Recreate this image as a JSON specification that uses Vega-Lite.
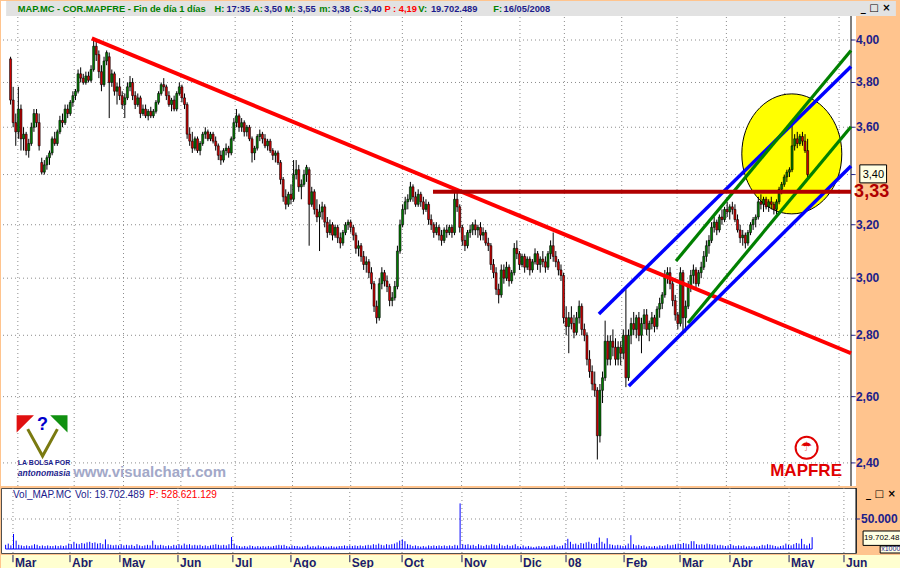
{
"$schema": "https://vega.github.io/schema/vega-lite/v6.json",
"background": "#FFC48E",
"padding": 0,
"spacing": 0,
"config": {"view": {"stroke": null}, "font": "Liberation Sans"},
"resolve": {"scale": {"x": "independent", "y": "independent"}},
"datasets": {
"ohlc": [
{"i":1,"o":3.91,"h":3.92,"l":3.70,"c":3.72,"v":7000},
{"i":2,"o":3.72,"h":3.78,"l":3.60,"c":3.62,"v":9000},
{"i":3,"o":3.62,"h":3.66,"l":3.52,"c":3.58,"v":6000},
{"i":4,"o":3.58,"h":3.78,"l":3.55,"c":3.68,"v":25000},
{"i":5,"o":3.68,"h":3.70,"l":3.50,"c":3.55,"v":14000},
{"i":6,"o":3.55,"h":3.60,"l":3.50,"c":3.57,"v":7000},
{"i":7,"o":3.57,"h":3.58,"l":3.48,"c":3.50,"v":6000},
{"i":8,"o":3.50,"h":3.55,"l":3.47,"c":3.53,"v":5000},
{"i":9,"o":3.53,"h":3.62,"l":3.52,"c":3.60,"v":6000},
{"i":10,"o":3.60,"h":3.68,"l":3.58,"c":3.66,"v":5000},
{"i":11,"o":3.66,"h":3.68,"l":3.60,"c":3.62,"v":6000},
{"i":12,"o":3.62,"h":3.66,"l":3.50,"c":3.52,"v":8000},
{"i":13,"o":3.45,"h":3.47,"l":3.40,"c":3.41,"v":7000},
{"i":14,"o":3.41,"h":3.46,"l":3.40,"c":3.44,"v":5000},
{"i":15,"o":3.44,"h":3.48,"l":3.42,"c":3.47,"v":6000},
{"i":16,"o":3.47,"h":3.50,"l":3.44,"c":3.49,"v":5000},
{"i":17,"o":3.49,"h":3.56,"l":3.48,"c":3.55,"v":6000},
{"i":18,"o":3.55,"h":3.58,"l":3.52,"c":3.53,"v":5000},
{"i":19,"o":3.53,"h":3.59,"l":3.52,"c":3.58,"v":5000},
{"i":20,"o":3.58,"h":3.65,"l":3.57,"c":3.63,"v":6000},
{"i":21,"o":3.63,"h":3.66,"l":3.60,"c":3.62,"v":5000},
{"i":22,"o":3.62,"h":3.70,"l":3.61,"c":3.68,"v":6000},
{"i":23,"o":3.68,"h":3.70,"l":3.64,"c":3.66,"v":5000},
{"i":24,"o":3.66,"h":3.72,"l":3.65,"c":3.71,"v":6000},
{"i":25,"o":3.71,"h":3.76,"l":3.69,"c":3.74,"v":9000},
{"i":26,"o":3.74,"h":3.77,"l":3.72,"c":3.76,"v":8000},
{"i":27,"o":3.76,"h":3.86,"l":3.75,"c":3.84,"v":12000},
{"i":28,"o":3.84,"h":3.87,"l":3.80,"c":3.82,"v":9000},
{"i":29,"o":3.82,"h":3.84,"l":3.79,"c":3.80,"v":8000},
{"i":30,"o":3.80,"h":3.85,"l":3.79,"c":3.83,"v":10000},
{"i":31,"o":3.83,"h":3.85,"l":3.80,"c":3.81,"v":9000},
{"i":32,"o":3.81,"h":3.88,"l":3.80,"c":3.86,"v":11000},
{"i":33,"o":3.86,"h":4.01,"l":3.85,"c":3.97,"v":12000},
{"i":34,"o":3.97,"h":4.00,"l":3.90,"c":3.93,"v":10000},
{"i":35,"o":3.93,"h":3.95,"l":3.82,"c":3.85,"v":11000},
{"i":36,"o":3.85,"h":3.88,"l":3.76,"c":3.79,"v":9000},
{"i":37,"o":3.79,"h":3.92,"l":3.78,"c":3.90,"v":10000},
{"i":38,"o":3.90,"h":3.95,"l":3.88,"c":3.94,"v":8000},
{"i":39,"o":3.92,"h":3.94,"l":3.64,"c":3.80,"v":16000},
{"i":40,"o":3.80,"h":3.86,"l":3.78,"c":3.84,"v":8000},
{"i":41,"o":3.84,"h":3.85,"l":3.74,"c":3.76,"v":7000},
{"i":42,"o":3.76,"h":3.80,"l":3.70,"c":3.78,"v":6000},
{"i":43,"o":3.78,"h":3.82,"l":3.72,"c":3.74,"v":7000},
{"i":44,"o":3.74,"h":3.76,"l":3.68,"c":3.70,"v":6000},
{"i":45,"o":3.70,"h":3.75,"l":3.64,"c":3.73,"v":8000},
{"i":46,"o":3.73,"h":3.80,"l":3.72,"c":3.78,"v":6000},
{"i":47,"o":3.78,"h":3.83,"l":3.76,"c":3.80,"v":7000},
{"i":48,"o":3.80,"h":3.82,"l":3.72,"c":3.74,"v":6000},
{"i":49,"o":3.74,"h":3.76,"l":3.68,"c":3.70,"v":7000},
{"i":50,"o":3.70,"h":3.75,"l":3.69,"c":3.73,"v":5000},
{"i":51,"o":3.73,"h":3.74,"l":3.64,"c":3.66,"v":8000},
{"i":52,"o":3.66,"h":3.70,"l":3.65,"c":3.68,"v":6000},
{"i":53,"o":3.68,"h":3.70,"l":3.64,"c":3.65,"v":5000},
{"i":54,"o":3.65,"h":3.68,"l":3.63,"c":3.67,"v":6000},
{"i":55,"o":3.67,"h":3.69,"l":3.64,"c":3.65,"v":7000},
{"i":56,"o":3.65,"h":3.68,"l":3.64,"c":3.67,"v":6000},
{"i":57,"o":3.67,"h":3.72,"l":3.66,"c":3.71,"v":14000},
{"i":58,"o":3.71,"h":3.76,"l":3.70,"c":3.75,"v":7000},
{"i":59,"o":3.75,"h":3.80,"l":3.74,"c":3.79,"v":6000},
{"i":60,"o":3.79,"h":3.82,"l":3.76,"c":3.78,"v":7000},
{"i":61,"o":3.78,"h":3.79,"l":3.72,"c":3.74,"v":6000},
{"i":62,"o":3.74,"h":3.76,"l":3.69,"c":3.70,"v":5000},
{"i":63,"o":3.70,"h":3.73,"l":3.67,"c":3.72,"v":6000},
{"i":64,"o":3.72,"h":3.74,"l":3.67,"c":3.68,"v":5000},
{"i":65,"o":3.68,"h":3.76,"l":3.67,"c":3.75,"v":7000},
{"i":66,"o":3.75,"h":3.80,"l":3.74,"c":3.78,"v":6000},
{"i":67,"o":3.78,"h":3.79,"l":3.71,"c":3.73,"v":8000},
{"i":68,"o":3.73,"h":3.75,"l":3.68,"c":3.70,"v":6000},
{"i":69,"o":3.70,"h":3.71,"l":3.55,"c":3.57,"v":9000},
{"i":70,"o":3.57,"h":3.60,"l":3.52,"c":3.54,"v":7000},
{"i":71,"o":3.54,"h":3.58,"l":3.49,"c":3.51,"v":8000},
{"i":72,"o":3.51,"h":3.56,"l":3.50,"c":3.55,"v":6000},
{"i":73,"o":3.55,"h":3.56,"l":3.49,"c":3.50,"v":7000},
{"i":74,"o":3.50,"h":3.54,"l":3.48,"c":3.53,"v":6000},
{"i":75,"o":3.53,"h":3.58,"l":3.52,"c":3.57,"v":7000},
{"i":76,"o":3.57,"h":3.60,"l":3.55,"c":3.58,"v":5000},
{"i":77,"o":3.58,"h":3.59,"l":3.54,"c":3.55,"v":6000},
{"i":78,"o":3.55,"h":3.58,"l":3.54,"c":3.57,"v":5000},
{"i":79,"o":3.57,"h":3.58,"l":3.53,"c":3.54,"v":6000},
{"i":80,"o":3.54,"h":3.56,"l":3.50,"c":3.52,"v":7000},
{"i":81,"o":3.52,"h":3.53,"l":3.46,"c":3.48,"v":8000},
{"i":82,"o":3.48,"h":3.50,"l":3.44,"c":3.46,"v":7000},
{"i":83,"o":3.46,"h":3.51,"l":3.45,"c":3.50,"v":6000},
{"i":84,"o":3.50,"h":3.53,"l":3.48,"c":3.51,"v":7000},
{"i":85,"o":3.51,"h":3.52,"l":3.47,"c":3.49,"v":6000},
{"i":86,"o":3.49,"h":3.56,"l":3.48,"c":3.55,"v":8000},
{"i":87,"o":3.55,"h":3.64,"l":3.54,"c":3.62,"v":20000},
{"i":88,"o":3.62,"h":3.68,"l":3.60,"c":3.65,"v":9000},
{"i":89,"o":3.65,"h":3.66,"l":3.58,"c":3.60,"v":6000},
{"i":90,"o":3.60,"h":3.64,"l":3.58,"c":3.62,"v":5000},
{"i":91,"o":3.62,"h":3.63,"l":3.56,"c":3.58,"v":4000},
{"i":92,"o":3.58,"h":3.61,"l":3.56,"c":3.60,"v":5000},
{"i":93,"o":3.60,"h":3.61,"l":3.54,"c":3.55,"v":4000},
{"i":94,"o":3.55,"h":3.56,"l":3.45,"c":3.49,"v":6000},
{"i":95,"o":3.49,"h":3.52,"l":3.46,"c":3.51,"v":5000},
{"i":96,"o":3.51,"h":3.57,"l":3.50,"c":3.56,"v":4000},
{"i":97,"o":3.56,"h":3.59,"l":3.54,"c":3.57,"v":5000},
{"i":98,"o":3.57,"h":3.58,"l":3.53,"c":3.55,"v":4000},
{"i":99,"o":3.55,"h":3.57,"l":3.51,"c":3.52,"v":5000},
{"i":100,"o":3.52,"h":3.55,"l":3.50,"c":3.54,"v":4000},
{"i":101,"o":3.54,"h":3.55,"l":3.49,"c":3.50,"v":5000},
{"i":102,"o":3.50,"h":3.51,"l":3.46,"c":3.48,"v":4000},
{"i":103,"o":3.48,"h":3.50,"l":3.45,"c":3.49,"v":5000},
{"i":104,"o":3.49,"h":3.50,"l":3.44,"c":3.45,"v":6000},
{"i":105,"o":3.45,"h":3.46,"l":3.36,"c":3.38,"v":7000},
{"i":106,"o":3.38,"h":3.39,"l":3.29,"c":3.31,"v":6000},
{"i":107,"o":3.31,"h":3.34,"l":3.26,"c":3.28,"v":7000},
{"i":108,"o":3.28,"h":3.33,"l":3.27,"c":3.32,"v":5000},
{"i":109,"o":3.32,"h":3.36,"l":3.28,"c":3.30,"v":4000},
{"i":110,"o":3.30,"h":3.46,"l":3.29,"c":3.40,"v":6000},
{"i":111,"o":3.40,"h":3.46,"l":3.38,"c":3.42,"v":5000},
{"i":112,"o":3.42,"h":3.44,"l":3.33,"c":3.35,"v":5000},
{"i":113,"o":3.35,"h":3.38,"l":3.30,"c":3.36,"v":4000},
{"i":114,"o":3.36,"h":3.42,"l":3.35,"c":3.40,"v":4000},
{"i":115,"o":3.40,"h":3.44,"l":3.37,"c":3.43,"v":5000},
{"i":116,"o":3.42,"h":3.43,"l":3.12,"c":3.28,"v":7000},
{"i":117,"o":3.28,"h":3.35,"l":3.27,"c":3.33,"v":4000},
{"i":118,"o":3.33,"h":3.34,"l":3.24,"c":3.26,"v":5000},
{"i":119,"o":3.26,"h":3.30,"l":3.21,"c":3.23,"v":4000},
{"i":120,"o":3.23,"h":3.28,"l":3.10,"c":3.25,"v":6000},
{"i":121,"o":3.25,"h":3.29,"l":3.22,"c":3.27,"v":4000},
{"i":122,"o":3.27,"h":3.28,"l":3.19,"c":3.21,"v":5000},
{"i":123,"o":3.21,"h":3.23,"l":3.15,"c":3.17,"v":4000},
{"i":124,"o":3.17,"h":3.22,"l":3.16,"c":3.20,"v":4000},
{"i":125,"o":3.20,"h":3.21,"l":3.14,"c":3.16,"v":5000},
{"i":126,"o":3.16,"h":3.20,"l":3.15,"c":3.19,"v":4000},
{"i":127,"o":3.19,"h":3.20,"l":3.13,"c":3.15,"v":4000},
{"i":128,"o":3.15,"h":3.17,"l":3.11,"c":3.13,"v":5000},
{"i":129,"o":3.13,"h":3.18,"l":3.12,"c":3.17,"v":5000},
{"i":130,"o":3.17,"h":3.21,"l":3.16,"c":3.20,"v":6000},
{"i":131,"o":3.20,"h":3.22,"l":3.18,"c":3.21,"v":5000},
{"i":132,"o":3.21,"h":3.22,"l":3.17,"c":3.19,"v":6000},
{"i":133,"o":3.19,"h":3.20,"l":3.14,"c":3.16,"v":5000},
{"i":134,"o":3.16,"h":3.17,"l":3.09,"c":3.11,"v":6000},
{"i":135,"o":3.11,"h":3.14,"l":3.08,"c":3.12,"v":5000},
{"i":136,"o":3.12,"h":3.13,"l":3.06,"c":3.08,"v":6000},
{"i":137,"o":3.08,"h":3.10,"l":3.03,"c":3.05,"v":5000},
{"i":138,"o":3.05,"h":3.08,"l":3.02,"c":3.06,"v":6000},
{"i":139,"o":3.06,"h":3.07,"l":3.00,"c":3.02,"v":7000},
{"i":140,"o":3.02,"h":3.04,"l":2.96,"c":2.98,"v":6000},
{"i":141,"o":2.98,"h":2.99,"l":2.88,"c":2.90,"v":8000},
{"i":142,"o":2.90,"h":2.92,"l":2.84,"c":2.86,"v":7000},
{"i":143,"o":2.86,"h":3.00,"l":2.85,"c":2.98,"v":9000},
{"i":144,"o":2.98,"h":3.04,"l":2.96,"c":3.02,"v":7000},
{"i":145,"o":3.02,"h":3.03,"l":2.97,"c":2.99,"v":6000},
{"i":146,"o":2.99,"h":3.01,"l":2.95,"c":2.97,"v":8000},
{"i":147,"o":2.97,"h":2.98,"l":2.90,"c":2.92,"v":7000},
{"i":148,"o":2.92,"h":2.95,"l":2.90,"c":2.93,"v":8000},
{"i":149,"o":2.93,"h":2.99,"l":2.92,"c":2.97,"v":9000},
{"i":150,"o":2.97,"h":3.12,"l":2.96,"c":3.10,"v":11000},
{"i":151,"o":3.10,"h":3.22,"l":3.09,"c":3.20,"v":14000},
{"i":152,"o":3.20,"h":3.28,"l":3.19,"c":3.26,"v":16000},
{"i":153,"o":3.26,"h":3.31,"l":3.24,"c":3.29,"v":13000},
{"i":154,"o":3.29,"h":3.32,"l":3.26,"c":3.30,"v":8000},
{"i":155,"o":3.30,"h":3.37,"l":3.29,"c":3.35,"v":7000},
{"i":156,"o":3.35,"h":3.36,"l":3.29,"c":3.31,"v":5000},
{"i":157,"o":3.31,"h":3.33,"l":3.27,"c":3.28,"v":6000},
{"i":158,"o":3.28,"h":3.34,"l":3.27,"c":3.32,"v":5000},
{"i":159,"o":3.32,"h":3.33,"l":3.27,"c":3.29,"v":4000},
{"i":160,"o":3.29,"h":3.31,"l":3.24,"c":3.26,"v":5000},
{"i":161,"o":3.26,"h":3.30,"l":3.25,"c":3.28,"v":4000},
{"i":162,"o":3.28,"h":3.29,"l":3.20,"c":3.22,"v":6000},
{"i":163,"o":3.22,"h":3.24,"l":3.18,"c":3.20,"v":5000},
{"i":164,"o":3.20,"h":3.21,"l":3.15,"c":3.17,"v":6000},
{"i":165,"o":3.17,"h":3.21,"l":3.16,"c":3.19,"v":5000},
{"i":166,"o":3.19,"h":3.20,"l":3.14,"c":3.16,"v":6000},
{"i":167,"o":3.16,"h":3.18,"l":3.12,"c":3.14,"v":5000},
{"i":168,"o":3.14,"h":3.19,"l":3.13,"c":3.18,"v":6000},
{"i":169,"o":3.18,"h":3.20,"l":3.15,"c":3.17,"v":5000},
{"i":170,"o":3.17,"h":3.20,"l":3.16,"c":3.19,"v":6000},
{"i":171,"o":3.19,"h":3.20,"l":3.15,"c":3.17,"v":5000},
{"i":172,"o":3.17,"h":3.33,"l":3.16,"c":3.30,"v":7000},
{"i":173,"o":3.30,"h":3.34,"l":3.25,"c":3.27,"v":6000},
{"i":174,"o":3.27,"h":3.28,"l":3.17,"c":3.19,"v":76000},
{"i":175,"o":3.19,"h":3.20,"l":3.12,"c":3.14,"v":8000},
{"i":176,"o":3.14,"h":3.16,"l":3.10,"c":3.12,"v":7000},
{"i":177,"o":3.12,"h":3.18,"l":3.11,"c":3.17,"v":8000},
{"i":178,"o":3.17,"h":3.20,"l":3.15,"c":3.18,"v":6000},
{"i":179,"o":3.18,"h":3.21,"l":3.16,"c":3.20,"v":7000},
{"i":180,"o":3.20,"h":3.22,"l":3.16,"c":3.18,"v":5000},
{"i":181,"o":3.18,"h":3.20,"l":3.15,"c":3.19,"v":8000},
{"i":182,"o":3.19,"h":3.21,"l":3.14,"c":3.16,"v":6000},
{"i":183,"o":3.16,"h":3.19,"l":3.14,"c":3.17,"v":5000},
{"i":184,"o":3.17,"h":3.18,"l":3.12,"c":3.13,"v":7000},
{"i":185,"o":3.13,"h":3.15,"l":3.10,"c":3.12,"v":6000},
{"i":186,"o":3.12,"h":3.13,"l":3.03,"c":3.05,"v":8000},
{"i":187,"o":3.05,"h":3.07,"l":3.00,"c":3.02,"v":7000},
{"i":188,"o":3.02,"h":3.04,"l":2.94,"c":2.96,"v":6000},
{"i":189,"o":2.96,"h":2.98,"l":2.91,"c":2.94,"v":9000},
{"i":190,"o":2.94,"h":3.05,"l":2.93,"c":3.03,"v":6000},
{"i":191,"o":3.03,"h":3.05,"l":2.98,"c":3.00,"v":5000},
{"i":192,"o":3.00,"h":3.06,"l":2.99,"c":3.04,"v":7000},
{"i":193,"o":3.04,"h":3.05,"l":2.97,"c":2.99,"v":5000},
{"i":194,"o":2.99,"h":3.03,"l":2.98,"c":3.02,"v":6000},
{"i":195,"o":3.02,"h":3.13,"l":3.01,"c":3.11,"v":8000},
{"i":196,"o":3.11,"h":3.14,"l":3.07,"c":3.09,"v":5000},
{"i":197,"o":3.09,"h":3.10,"l":3.03,"c":3.05,"v":4000},
{"i":198,"o":3.05,"h":3.09,"l":3.04,"c":3.08,"v":6000},
{"i":199,"o":3.08,"h":3.09,"l":3.02,"c":3.04,"v":4000},
{"i":200,"o":3.04,"h":3.08,"l":3.03,"c":3.07,"v":5000},
{"i":201,"o":3.07,"h":3.08,"l":3.01,"c":3.03,"v":4000},
{"i":202,"o":3.03,"h":3.07,"l":3.02,"c":3.06,"v":3000},
{"i":203,"o":3.06,"h":3.11,"l":3.05,"c":3.09,"v":4000},
{"i":204,"o":3.09,"h":3.10,"l":3.03,"c":3.05,"v":5000},
{"i":205,"o":3.05,"h":3.08,"l":3.02,"c":3.07,"v":4000},
{"i":206,"o":3.07,"h":3.10,"l":3.04,"c":3.06,"v":5000},
{"i":207,"o":3.06,"h":3.08,"l":3.02,"c":3.04,"v":4000},
{"i":208,"o":3.04,"h":3.10,"l":3.03,"c":3.09,"v":5000},
{"i":209,"o":3.09,"h":3.14,"l":3.07,"c":3.12,"v":6000},
{"i":210,"o":3.12,"h":3.17,"l":3.06,"c":3.08,"v":7000},
{"i":211,"o":3.08,"h":3.10,"l":3.04,"c":3.06,"v":4000},
{"i":212,"o":3.06,"h":3.07,"l":3.01,"c":3.03,"v":5000},
{"i":213,"o":3.03,"h":3.05,"l":2.99,"c":3.01,"v":6000},
{"i":214,"o":3.01,"h":3.02,"l":2.84,"c":2.86,"v":10000},
{"i":215,"o":2.86,"h":2.90,"l":2.80,"c":2.83,"v":17000},
{"i":216,"o":2.83,"h":2.88,"l":2.74,"c":2.86,"v":12000},
{"i":217,"o":2.86,"h":2.90,"l":2.82,"c":2.84,"v":8000},
{"i":218,"o":2.84,"h":2.87,"l":2.79,"c":2.81,"v":9000},
{"i":219,"o":2.81,"h":2.88,"l":2.80,"c":2.86,"v":7000},
{"i":220,"o":2.86,"h":2.92,"l":2.84,"c":2.90,"v":10000},
{"i":221,"o":2.90,"h":2.91,"l":2.80,"c":2.82,"v":9000},
{"i":222,"o":2.82,"h":2.84,"l":2.78,"c":2.80,"v":11000},
{"i":223,"o":2.80,"h":2.81,"l":2.70,"c":2.72,"v":12000},
{"i":224,"o":2.72,"h":2.75,"l":2.66,"c":2.68,"v":9000},
{"i":225,"o":2.68,"h":2.70,"l":2.62,"c":2.64,"v":8000},
{"i":226,"o":2.64,"h":2.68,"l":2.60,"c":2.62,"v":10000},
{"i":227,"o":2.62,"h":2.63,"l":2.41,"c":2.48,"v":19000},
{"i":228,"o":2.48,"h":2.64,"l":2.46,"c":2.62,"v":12000},
{"i":229,"o":2.62,"h":2.68,"l":2.58,"c":2.66,"v":9000},
{"i":230,"o":2.66,"h":2.85,"l":2.65,"c":2.78,"v":18000},
{"i":231,"o":2.78,"h":2.80,"l":2.70,"c":2.72,"v":8000},
{"i":232,"o":2.72,"h":2.80,"l":2.70,"c":2.78,"v":7000},
{"i":233,"o":2.78,"h":2.82,"l":2.73,"c":2.76,"v":6000},
{"i":234,"o":2.76,"h":2.79,"l":2.70,"c":2.72,"v":7000},
{"i":235,"o":2.72,"h":2.78,"l":2.70,"c":2.76,"v":6000},
{"i":236,"o":2.76,"h":2.78,"l":2.70,"c":2.74,"v":5000},
{"i":237,"o":2.74,"h":2.82,"l":2.72,"c":2.80,"v":6000},
{"i":238,"o":2.80,"h":2.96,"l":2.63,"c":2.66,"v":9000},
{"i":239,"o":2.66,"h":2.82,"l":2.65,"c":2.80,"v":23000},
{"i":240,"o":2.80,"h":2.86,"l":2.77,"c":2.84,"v":8000},
{"i":241,"o":2.84,"h":2.88,"l":2.80,"c":2.82,"v":6000},
{"i":242,"o":2.82,"h":2.87,"l":2.79,"c":2.86,"v":7000},
{"i":243,"o":2.86,"h":2.88,"l":2.78,"c":2.80,"v":5000},
{"i":244,"o":2.80,"h":2.86,"l":2.74,"c":2.84,"v":6000},
{"i":245,"o":2.84,"h":2.89,"l":2.82,"c":2.87,"v":4000},
{"i":246,"o":2.87,"h":2.89,"l":2.80,"c":2.82,"v":5000},
{"i":247,"o":2.82,"h":2.85,"l":2.78,"c":2.84,"v":4000},
{"i":248,"o":2.84,"h":2.88,"l":2.82,"c":2.86,"v":5000},
{"i":249,"o":2.86,"h":2.87,"l":2.81,"c":2.83,"v":4000},
{"i":250,"o":2.83,"h":2.90,"l":2.82,"c":2.89,"v":6000},
{"i":251,"o":2.89,"h":2.93,"l":2.86,"c":2.91,"v":5000},
{"i":252,"o":2.91,"h":2.95,"l":2.89,"c":2.94,"v":6000},
{"i":253,"o":2.94,"h":3.03,"l":2.93,"c":3.01,"v":8000},
{"i":254,"o":3.01,"h":3.04,"l":2.98,"c":3.02,"v":6000},
{"i":255,"o":3.02,"h":3.04,"l":2.96,"c":2.98,"v":7000},
{"i":256,"o":2.98,"h":3.00,"l":2.90,"c":2.92,"v":8000},
{"i":257,"o":2.92,"h":2.94,"l":2.85,"c":2.87,"v":9000},
{"i":258,"o":2.87,"h":2.88,"l":2.82,"c":2.84,"v":8000},
{"i":259,"o":2.84,"h":3.04,"l":2.83,"c":3.02,"v":10000},
{"i":260,"o":3.02,"h":3.03,"l":2.81,"c":2.86,"v":9000},
{"i":261,"o":2.86,"h":2.92,"l":2.81,"c":2.90,"v":8000},
{"i":262,"o":2.90,"h":2.99,"l":2.89,"c":2.97,"v":13000},
{"i":263,"o":2.97,"h":3.03,"l":2.95,"c":3.01,"v":13000},
{"i":264,"o":3.01,"h":3.05,"l":2.98,"c":3.03,"v":8000},
{"i":265,"o":3.03,"h":3.04,"l":2.96,"c":2.98,"v":7000},
{"i":266,"o":2.98,"h":3.03,"l":2.97,"c":3.02,"v":8000},
{"i":267,"o":3.02,"h":3.06,"l":3.00,"c":3.04,"v":7000},
{"i":268,"o":3.04,"h":3.10,"l":3.03,"c":3.08,"v":9000},
{"i":269,"o":3.08,"h":3.14,"l":3.06,"c":3.12,"v":8000},
{"i":270,"o":3.12,"h":3.16,"l":3.09,"c":3.14,"v":7000},
{"i":271,"o":3.14,"h":3.21,"l":3.13,"c":3.19,"v":8000},
{"i":272,"o":3.19,"h":3.23,"l":3.17,"c":3.21,"v":6000},
{"i":273,"o":3.21,"h":3.22,"l":3.16,"c":3.18,"v":7000},
{"i":274,"o":3.18,"h":3.24,"l":3.17,"c":3.23,"v":6000},
{"i":275,"o":3.23,"h":3.26,"l":3.20,"c":3.22,"v":5000},
{"i":276,"o":3.22,"h":3.27,"l":3.21,"c":3.26,"v":6000},
{"i":277,"o":3.26,"h":3.29,"l":3.23,"c":3.25,"v":8000},
{"i":278,"o":3.25,"h":3.28,"l":3.22,"c":3.27,"v":6000},
{"i":279,"o":3.27,"h":3.29,"l":3.24,"c":3.26,"v":5000},
{"i":280,"o":3.26,"h":3.28,"l":3.21,"c":3.22,"v":6000},
{"i":281,"o":3.22,"h":3.24,"l":3.17,"c":3.18,"v":5000},
{"i":282,"o":3.18,"h":3.20,"l":3.13,"c":3.15,"v":6000},
{"i":283,"o":3.15,"h":3.18,"l":3.12,"c":3.16,"v":4000},
{"i":284,"o":3.16,"h":3.17,"l":3.11,"c":3.13,"v":5000},
{"i":285,"o":3.13,"h":3.18,"l":3.12,"c":3.17,"v":4000},
{"i":286,"o":3.17,"h":3.21,"l":3.16,"c":3.20,"v":5000},
{"i":287,"o":3.20,"h":3.23,"l":3.18,"c":3.22,"v":4000},
{"i":288,"o":3.22,"h":3.24,"l":3.19,"c":3.23,"v":5000},
{"i":289,"o":3.23,"h":3.31,"l":3.22,"c":3.29,"v":7000},
{"i":290,"o":3.29,"h":3.32,"l":3.26,"c":3.28,"v":6000},
{"i":291,"o":3.28,"h":3.31,"l":3.25,"c":3.30,"v":8000},
{"i":292,"o":3.30,"h":3.31,"l":3.26,"c":3.27,"v":7000},
{"i":293,"o":3.27,"h":3.30,"l":3.25,"c":3.29,"v":6000},
{"i":294,"o":3.29,"h":3.31,"l":3.26,"c":3.28,"v":5000},
{"i":295,"o":3.28,"h":3.29,"l":3.24,"c":3.26,"v":4000},
{"i":296,"o":3.26,"h":3.30,"l":3.24,"c":3.29,"v":5000},
{"i":297,"o":3.29,"h":3.35,"l":3.28,"c":3.34,"v":6000},
{"i":298,"o":3.34,"h":3.37,"l":3.32,"c":3.36,"v":9000},
{"i":299,"o":3.36,"h":3.40,"l":3.35,"c":3.39,"v":7000},
{"i":300,"o":3.39,"h":3.42,"l":3.37,"c":3.41,"v":6000},
{"i":301,"o":3.41,"h":3.43,"l":3.39,"c":3.42,"v":8000},
{"i":302,"o":3.42,"h":3.61,"l":3.41,"c":3.52,"v":10000},
{"i":303,"o":3.52,"h":3.57,"l":3.50,"c":3.55,"v":9000},
{"i":304,"o":3.55,"h":3.58,"l":3.51,"c":3.53,"v":17000},
{"i":305,"o":3.53,"h":3.57,"l":3.52,"c":3.56,"v":8000},
{"i":306,"o":3.56,"h":3.58,"l":3.52,"c":3.54,"v":6000},
{"i":307,"o":3.54,"h":3.57,"l":3.49,"c":3.50,"v":9000},
{"i":308,"o":3.50,"h":3.55,"l":3.38,"c":3.40,"v":19702}
],
"lines": [
{"id":"trend","g":"r","i":32.3,"p":4.008},{"id":"trend","g":"r","i":324.7,"p":2.74},
{"id":"hz","g":"d","i":163.7,"p":3.33},{"id":"hz","g":"d","i":324.7,"p":3.33},
{"id":"bl1","g":"b","i":239.1,"p":2.634},{"id":"bl1","g":"b","i":324.7,"p":3.435},
{"id":"bl2","g":"b","i":227.6,"p":2.873},{"id":"bl2","g":"b","i":324.7,"p":3.874},
{"id":"gr1","g":"g","i":261.9,"p":2.842},{"id":"gr1","g":"g","i":324.7,"p":3.602},
{"id":"gr2","g":"g","i":257.3,"p":3.063},{"id":"gr2","g":"g","i":324.7,"p":3.95}
],
"ygrid": [
{"p":2.4,"lab":"2,40"},{"p":2.6,"lab":"2,60"},{"p":2.8,"lab":"2,80"},{"p":3.0,"lab":"3,00"},{"p":3.2,"lab":"3,20"},
{"p":3.4,"lab":""},{"p":3.6,"lab":"3,60"},{"p":3.8,"lab":"3,80"},{"p":4.0,"lab":"4,00"}
],
"vgrid": [{"v":50000,"lab":"50.000"}],
"circ": [{"i":301.9,"p":3.486}],
"hdr": [{"i0":-0.7,"i1":342,"p0":4.118,"p1":4.193}],
"box": [{"i0":328.1,"i1":338.4,"p0":3.366,"p1":3.44}],
"logo": [{"i":7.61,"p":2.5},{"i":13.32,"p":2.42},{"i":19.03,"p":2.5}],
"tri": [{"k":"r","i":6.66,"p":2.516},{"k":"g","i":19.6,"p":2.516}],
"mfc": [{"i":307.6,"p":2.444}],
"notes": [
{"t":"MAP.MC - COR.MAPFRE - Fin de día 1 días","i":3.81,"p":4.153,"k":"hg"},
{"t":"H:","i":79.56,"p":4.153,"k":"hg"},
{"t":"17:35","i":84.13,"p":4.153,"k":"hb"},
{"t":"A:","i":94.4,"p":4.153,"k":"hg"},
{"t":"3,50","i":98.6,"p":4.153,"k":"hb"},
{"t":"M:","i":106.6,"p":4.153,"k":"hg"},
{"t":"3,55","i":111.5,"p":4.153,"k":"hb"},
{"t":"m:","i":119.9,"p":4.153,"k":"hg"},
{"t":"3,38","i":124.7,"p":4.153,"k":"hb"},
{"t":"C:","i":132.9,"p":4.153,"k":"hg"},
{"t":"3,40","i":137.0,"p":4.153,"k":"hb"},
{"t":"P : 4,19","i":145.0,"p":4.153,"k":"hr"},
{"t":"V:","i":158.0,"p":4.153,"k":"hg"},
{"t":"19.702.489","i":162.9,"p":4.153,"k":"hb"},
{"t":"F:","i":186.9,"p":4.153,"k":"hg"},
{"t":"16/05/2008","i":190.9,"p":4.153,"k":"hb"},
{"t":"_ □ ×","i":334.2,"p":4.158,"k":"win"},
{"t":"3,33","i":325.9,"p":3.33,"k":"last"},
{"t":"3,40","i":333.3,"p":3.40,"k":"box"},
{"t":"?","i":13.32,"p":2.513,"k":"q"},
{"t":"LA BOLSA POR","i":3.8,"p":2.400,"k":"lb"},
{"t":"antonomasia","i":3.8,"p":2.372,"k":"an"},
{"t":"www.visualchart.com","i":25.1,"p":2.374,"k":"vc"},
{"t":"MAPFRE","i":307.4,"p":2.377,"k":"mf"},
{"t":"☂","i":307.6,"p":2.446,"k":"um"}
],
"vnotes": [
{"t":"Vol_MAP.MC","i":3.81,"v":90000,"k":"vb"},
{"t":"Vol: 19.702.489","i":27.4,"v":90000,"k":"vb"},
{"t":"P: 528.621.129","i":55.6,"v":90000,"k":"vr"},
{"t":"_ □ ×","i":334.2,"v":91000,"k":"win"},
{"t":"19.702.48","i":327.7,"v":18000,"k":"vbox"},
{"t":"x1000","i":334.3,"v":-700,"k":"vx"}
],
"vboxes": [
{"i0":327.4,"i1":341.8,"v0":6000,"v1":30000},
{"i0":333.9,"i1":341.8,"v0":-6667,"v1":5000}
],
"months": [
{"i":3.8,"m":"Mar"},{"i":25.5,"m":"Abr"},{"i":44.5,"m":"May"},{"i":66.6,"m":"Jun"},
{"i":87.5,"m":"Jul"},{"i":109.6,"m":"Ago"},{"i":132,"m":"Sep"},{"i":151.9,"m":"Oct"},
{"i":174.7,"m":"Nov"},{"i":197.2,"m":"Dic"},{"i":214.3,"m":"08"},{"i":236.4,"m":"Feb"},
{"i":257.7,"m":"Mar"},{"i":276.7,"m":"Abr"},{"i":299.2,"m":"May"},{"i":320.1,"m":"Jun"}
]
},
"vconcat": [
{
"width": 855, "height": 485,
"view": {"fill": "#FFFFFF", "stroke": null},
"layer": [
{"data": {"name": "ygrid"}, "mark": {"type": "rule", "color": "#8C8C8C", "strokeDash": [1,3], "strokeWidth": 1},
 "encoding": {
  "y": {"field": "p", "type": "quantitative", "scale": {"type": "log", "domain": [2.334, 4.193], "nice": false}, "axis": null}}},
{"data": {"name": "months"}, "mark": {"type": "rule", "color": "#8C8C8C", "strokeDash": [1,3], "strokeWidth": 1},
 "encoding": {
  "x": {"field": "i", "type": "quantitative", "scale": {"domain": [-0.76, 324.7], "nice": false, "zero": false}, "axis": null}}},
{"data": {"name": "circ"}, "mark": {"type": "rule", "color": "#000000", "strokeWidth": 1},
 "encoding": {
  "x": {"datum": 324.7, "type": "quantitative", "scale": {"domain": [-0.76, 324.7], "nice": false, "zero": false}, "axis": null}}},
{"data": {"name": "ygrid"}, "mark": {"type": "rule", "color": "#20208A", "strokeWidth": 1, "clip": false},
 "encoding": {
  "x": {"datum": 324.7, "type": "quantitative", "scale": {"domain": [-0.76, 324.7], "nice": false, "zero": false}, "axis": null},
  "x2": {"datum": 326.2},
  "y": {"field": "p", "type": "quantitative", "scale": {"type": "log", "domain": [2.334, 4.193], "nice": false}, "axis": null}}},
{"data": {"name": "ygrid"}, "mark": {"type": "text", "align": "left", "baseline": "middle", "font": "Liberation Sans", "fontSize": 12, "fontWeight": "bold", "color": "#20208A", "clip": false},
 "encoding": {
  "x": {"datum": 326.6, "type": "quantitative", "scale": {"domain": [-0.76, 324.7], "nice": false, "zero": false}, "axis": null},
  "y": {"field": "p", "type": "quantitative", "scale": {"type": "log", "domain": [2.334, 4.193], "nice": false}, "axis": null},
  "text": {"field": "lab"}}},
{"data": {"name": "hdr"}, "mark": {"type": "rect", "fill": "#E2E2E2", "clip": false},
 "encoding": {
  "x": {"field": "i0", "type": "quantitative", "scale": {"domain": [-0.76, 324.7], "nice": false, "zero": false}, "axis": null},
  "x2": {"field": "i1"},
  "y": {"field": "p0", "type": "quantitative", "scale": {"type": "log", "domain": [2.334, 4.193], "nice": false}, "axis": null},
  "y2": {"field": "p1"}}},
{"data": {"name": "circ"}, "mark": {"type": "point", "shape": "M0,-1A0.8333,1,0,1,1,0,1A0.8333,1,0,1,1,0,-1Z", "size": 14400, "filled": true, "fill": "#FFFF00", "fillOpacity": 1, "opacity": 1, "stroke": "#000000", "strokeWidth": 1},
 "encoding": {
  "x": {"field": "i", "type": "quantitative", "scale": {"domain": [-0.76, 324.7], "nice": false, "zero": false}, "axis": null},
  "y": {"field": "p", "type": "quantitative", "scale": {"type": "log", "domain": [2.334, 4.193], "nice": false}, "axis": null}}},
{"data": {"name": "ohlc"}, "mark": {"type": "rule", "color": "#000000", "strokeWidth": 1},
 "encoding": {
  "x": {"field": "i", "type": "quantitative", "scale": {"domain": [-0.76, 324.7], "nice": false, "zero": false}, "axis": null},
  "y": {"field": "l", "type": "quantitative", "scale": {"type": "log", "domain": [2.334, 4.193], "nice": false}, "axis": null},
  "y2": {"field": "h"}}},
{"data": {"name": "ohlc"}, "mark": {"type": "bar", "width": 2, "stroke": "#000000", "strokeWidth": 0.6},
 "encoding": {
  "x": {"field": "i", "type": "quantitative", "scale": {"domain": [-0.76, 324.7], "nice": false, "zero": false}, "axis": null},
  "y": {"field": "o", "type": "quantitative", "scale": {"type": "log", "domain": [2.334, 4.193], "nice": false}, "axis": null},
  "y2": {"field": "c"},
  "color": {"condition": {"test": "datum.c >= datum.o", "value": "#008000"}, "value": "#D40000"}}},
{"data": {"name": "lines"}, "transform": [{"filter": "datum.g == 'r'"}], "mark": {"type": "line", "color": "#FF0000", "strokeWidth": 4, "clip": true},
 "encoding": {
  "x": {"field": "i", "type": "quantitative", "scale": {"domain": [-0.76, 324.7], "nice": false, "zero": false}, "axis": null},
  "y": {"field": "p", "type": "quantitative", "scale": {"type": "log", "domain": [2.334, 4.193], "nice": false}, "axis": null},
  "detail": {"field": "id"}}},
{"data": {"name": "lines"}, "transform": [{"filter": "datum.g == 'b'"}], "mark": {"type": "line", "color": "#0000FF", "strokeWidth": 3.5, "clip": true},
 "encoding": {
  "x": {"field": "i", "type": "quantitative", "scale": {"domain": [-0.76, 324.7], "nice": false, "zero": false}, "axis": null},
  "y": {"field": "p", "type": "quantitative", "scale": {"type": "log", "domain": [2.334, 4.193], "nice": false}, "axis": null},
  "detail": {"field": "id"}}},
{"data": {"name": "lines"}, "transform": [{"filter": "datum.g == 'g'"}], "mark": {"type": "line", "color": "#008000", "strokeWidth": 3.2, "clip": true},
 "encoding": {
  "x": {"field": "i", "type": "quantitative", "scale": {"domain": [-0.76, 324.7], "nice": false, "zero": false}, "axis": null},
  "y": {"field": "p", "type": "quantitative", "scale": {"type": "log", "domain": [2.334, 4.193], "nice": false}, "axis": null},
  "detail": {"field": "id"}}},
{"data": {"name": "lines"}, "transform": [{"filter": "datum.g == 'd'"}], "mark": {"type": "line", "color": "#B00000", "strokeWidth": 4, "clip": true},
 "encoding": {
  "x": {"field": "i", "type": "quantitative", "scale": {"domain": [-0.76, 324.7], "nice": false, "zero": false}, "axis": null},
  "y": {"field": "p", "type": "quantitative", "scale": {"type": "log", "domain": [2.334, 4.193], "nice": false}, "axis": null},
  "detail": {"field": "id"}}},
{"data": {"name": "logo"}, "mark": {"type": "line", "color": "#7A7A10", "strokeWidth": 3},
 "encoding": {
  "x": {"field": "i", "type": "quantitative", "scale": {"domain": [-0.76, 324.7], "nice": false, "zero": false}, "axis": null},
  "y": {"field": "p", "type": "quantitative", "scale": {"type": "log", "domain": [2.334, 4.193], "nice": false}, "axis": null}}},
{"data": {"name": "tri"}, "transform": [{"filter": "datum.k == 'r'"}], "mark": {"type": "point", "shape": "M-1,-1L1,-1L-1,1Z", "size": 300, "filled": true, "fill": "#E01010", "opacity": 1},
 "encoding": {
  "x": {"field": "i", "type": "quantitative", "scale": {"domain": [-0.76, 324.7], "nice": false, "zero": false}, "axis": null},
  "y": {"field": "p", "type": "quantitative", "scale": {"type": "log", "domain": [2.334, 4.193], "nice": false}, "axis": null}}},
{"data": {"name": "tri"}, "transform": [{"filter": "datum.k == 'g'"}], "mark": {"type": "point", "shape": "M1,-1L-1,-1L1,1Z", "size": 300, "filled": true, "fill": "#109010", "opacity": 1},
 "encoding": {
  "x": {"field": "i", "type": "quantitative", "scale": {"domain": [-0.76, 324.7], "nice": false, "zero": false}, "axis": null},
  "y": {"field": "p", "type": "quantitative", "scale": {"type": "log", "domain": [2.334, 4.193], "nice": false}, "axis": null}}},
{"data": {"name": "mfc"}, "mark": {"type": "point", "shape": "circle", "size": 484, "filled": false, "stroke": "#E00000", "strokeWidth": 2, "opacity": 1},
 "encoding": {
  "x": {"field": "i", "type": "quantitative", "scale": {"domain": [-0.76, 324.7], "nice": false, "zero": false}, "axis": null},
  "y": {"field": "p", "type": "quantitative", "scale": {"type": "log", "domain": [2.334, 4.193], "nice": false}, "axis": null}}},
{"data": {"name": "box"}, "mark": {"type": "rect", "fill": "#FFFFE4", "stroke": "#000000", "strokeWidth": 1, "clip": false},
 "encoding": {
  "x": {"field": "i0", "type": "quantitative", "scale": {"domain": [-0.76, 324.7], "nice": false, "zero": false}, "axis": null},
  "x2": {"field": "i1"},
  "y": {"field": "p0", "type": "quantitative", "scale": {"type": "log", "domain": [2.334, 4.193], "nice": false}, "axis": null},
  "y2": {"field": "p1"}}},
{"data": {"name": "notes"}, "transform": [{"filter": "indexof(['hg','hb','hr'], datum.k) >= 0"}], "mark": {"type": "text", "align": "left", "baseline": "middle", "font": "Liberation Sans", "fontSize": 9.3, "fontWeight": "bold", "clip": false},
 "encoding": {
  "x": {"field": "i", "type": "quantitative", "scale": {"domain": [-0.76, 324.7], "nice": false, "zero": false}, "axis": null},
  "y": {"field": "p", "type": "quantitative", "scale": {"type": "log", "domain": [2.334, 4.193], "nice": false}, "axis": null},
  "text": {"field": "t"},
  "color": {"condition": [{"test": "datum.k == 'hg'", "value": "#008000"}, {"test": "datum.k == 'hr'", "value": "#FF0000"}], "value": "#1C1C8C"}}},
{"data": {"name": "notes"}, "transform": [{"filter": "datum.k == 'win'"}], "mark": {"type": "text", "align": "center", "baseline": "middle", "font": "DejaVu Sans", "fontSize": 10, "fontWeight": "bold", "color": "#000000", "clip": false},
 "encoding": {
  "x": {"field": "i", "type": "quantitative", "scale": {"domain": [-0.76, 324.7], "nice": false, "zero": false}, "axis": null},
  "y": {"field": "p", "type": "quantitative", "scale": {"type": "log", "domain": [2.334, 4.193], "nice": false}, "axis": null},
  "text": {"field": "t"}}},
{"data": {"name": "notes"}, "transform": [{"filter": "datum.k == 'last'"}], "mark": {"type": "text", "align": "left", "baseline": "middle", "font": "Liberation Sans", "fontSize": 18, "fontWeight": "bold", "color": "#B00000", "clip": false},
 "encoding": {
  "x": {"field": "i", "type": "quantitative", "scale": {"domain": [-0.76, 324.7], "nice": false, "zero": false}, "axis": null},
  "y": {"field": "p", "type": "quantitative", "scale": {"type": "log", "domain": [2.334, 4.193], "nice": false}, "axis": null},
  "text": {"field": "t"}}},
{"data": {"name": "notes"}, "transform": [{"filter": "datum.k == 'box'"}], "mark": {"type": "text", "align": "center", "baseline": "middle", "font": "Liberation Sans", "fontSize": 11, "color": "#000000", "clip": false},
 "encoding": {
  "x": {"field": "i", "type": "quantitative", "scale": {"domain": [-0.76, 324.7], "nice": false, "zero": false}, "axis": null},
  "y": {"field": "p", "type": "quantitative", "scale": {"type": "log", "domain": [2.334, 4.193], "nice": false}, "axis": null},
  "text": {"field": "t"}}},
{"data": {"name": "notes"}, "transform": [{"filter": "datum.k == 'q'"}], "mark": {"type": "text", "align": "center", "baseline": "middle", "font": "Liberation Sans", "fontSize": 18, "fontWeight": "bold", "color": "#0000CC"},
 "encoding": {
  "x": {"field": "i", "type": "quantitative", "scale": {"domain": [-0.76, 324.7], "nice": false, "zero": false}, "axis": null},
  "y": {"field": "p", "type": "quantitative", "scale": {"type": "log", "domain": [2.334, 4.193], "nice": false}, "axis": null},
  "text": {"field": "t"}}},
{"data": {"name": "notes"}, "transform": [{"filter": "datum.k == 'lb'"}], "mark": {"type": "text", "align": "left", "baseline": "middle", "font": "Liberation Sans", "fontSize": 7, "fontWeight": "bold", "color": "#1C1C8C"},
 "encoding": {
  "x": {"field": "i", "type": "quantitative", "scale": {"domain": [-0.76, 324.7], "nice": false, "zero": false}, "axis": null},
  "y": {"field": "p", "type": "quantitative", "scale": {"type": "log", "domain": [2.334, 4.193], "nice": false}, "axis": null},
  "text": {"field": "t"}}},
{"data": {"name": "notes"}, "transform": [{"filter": "datum.k == 'an'"}], "mark": {"type": "text", "align": "left", "baseline": "middle", "font": "Liberation Sans", "fontSize": 8.5, "fontWeight": "bold", "fontStyle": "italic", "color": "#1C1C8C"},
 "encoding": {
  "x": {"field": "i", "type": "quantitative", "scale": {"domain": [-0.76, 324.7], "nice": false, "zero": false}, "axis": null},
  "y": {"field": "p", "type": "quantitative", "scale": {"type": "log", "domain": [2.334, 4.193], "nice": false}, "axis": null},
  "text": {"field": "t"}}},
{"data": {"name": "notes"}, "transform": [{"filter": "datum.k == 'vc'"}], "mark": {"type": "text", "align": "left", "baseline": "middle", "font": "Liberation Sans", "fontSize": 15, "fontWeight": "bold", "color": "#A2A8C8"},
 "encoding": {
  "x": {"field": "i", "type": "quantitative", "scale": {"domain": [-0.76, 324.7], "nice": false, "zero": false}, "axis": null},
  "y": {"field": "p", "type": "quantitative", "scale": {"type": "log", "domain": [2.334, 4.193], "nice": false}, "axis": null},
  "text": {"field": "t"}}},
{"data": {"name": "notes"}, "transform": [{"filter": "datum.k == 'mf'"}], "mark": {"type": "text", "align": "center", "baseline": "middle", "font": "Liberation Sans", "fontSize": 17, "fontWeight": "bold", "color": "#E00000"},
 "encoding": {
  "x": {"field": "i", "type": "quantitative", "scale": {"domain": [-0.76, 324.7], "nice": false, "zero": false}, "axis": null},
  "y": {"field": "p", "type": "quantitative", "scale": {"type": "log", "domain": [2.334, 4.193], "nice": false}, "axis": null},
  "text": {"field": "t"}}},
{"data": {"name": "notes"}, "transform": [{"filter": "datum.k == 'um'"}], "mark": {"type": "text", "align": "center", "baseline": "middle", "font": "DejaVu Sans", "fontSize": 13, "color": "#E00000"},
 "encoding": {
  "x": {"field": "i", "type": "quantitative", "scale": {"domain": [-0.76, 324.7], "nice": false, "zero": false}, "axis": null},
  "y": {"field": "p", "type": "quantitative", "scale": {"type": "log", "domain": [2.334, 4.193], "nice": false}, "axis": null},
  "text": {"field": "t"}}}
]
},
{
"width": 855, "height": 65,
"view": {"fill": "#FFFFFF", "stroke": "#505050", "strokeWidth": 1},
"layer": [
{"data": {"name": "vgrid"}, "mark": {"type": "rule", "color": "#8C8C8C", "strokeDash": [1,3], "strokeWidth": 1},
 "encoding": {
  "y": {"field": "v", "type": "quantitative", "scale": {"domain": [-6667, 101667], "nice": false, "zero": false}, "axis": null}}},
{"data": {"name": "months"}, "mark": {"type": "rule", "color": "#8C8C8C", "strokeDash": [1,3], "strokeWidth": 1},
 "encoding": {
  "x": {"field": "i", "type": "quantitative", "scale": {"domain": [-0.76, 324.7], "nice": false, "zero": false}, "axis": null}}},
{"data": {"name": "vgrid"}, "mark": {"type": "rule", "color": "#000000", "strokeWidth": 1},
 "encoding": {
  "x": {"datum": 324.7, "type": "quantitative", "scale": {"domain": [-0.76, 324.7], "nice": false, "zero": false}, "axis": null}}},
{"data": {"name": "vgrid"}, "mark": {"type": "rule", "color": "#20208A", "strokeWidth": 1, "clip": false},
 "encoding": {
  "x": {"datum": 324.7, "type": "quantitative", "scale": {"domain": [-0.76, 324.7], "nice": false, "zero": false}, "axis": null},
  "x2": {"datum": 326.2},
  "y": {"field": "v", "type": "quantitative", "scale": {"domain": [-6667, 101667], "nice": false, "zero": false}, "axis": null}}},
{"data": {"name": "vgrid"}, "mark": {"type": "text", "align": "left", "baseline": "middle", "font": "Liberation Sans", "fontSize": 12, "fontWeight": "bold", "color": "#20208A", "clip": false},
 "encoding": {
  "x": {"datum": 326.6, "type": "quantitative", "scale": {"domain": [-0.76, 324.7], "nice": false, "zero": false}, "axis": null},
  "y": {"field": "v", "type": "quantitative", "scale": {"domain": [-6667, 101667], "nice": false, "zero": false}, "axis": null},
  "text": {"field": "lab"}}},
{"data": {"name": "ohlc"}, "mark": {"type": "rule", "color": "#0000FF", "strokeWidth": 1},
 "encoding": {
  "x": {"field": "i", "type": "quantitative", "scale": {"domain": [-0.76, 324.7], "nice": false, "zero": false}, "axis": null},
  "y": {"field": "v", "type": "quantitative", "scale": {"domain": [-6667, 101667], "nice": false, "zero": false}, "axis": null},
  "y2": {"datum": 0}}},
{"data": {"name": "ohlc"}, "mark": {"type": "line", "color": "#0000FF", "strokeWidth": 1},
 "encoding": {
  "x": {"field": "i", "type": "quantitative", "scale": {"domain": [-0.76, 324.7], "nice": false, "zero": false}, "axis": null},
  "y": {"datum": 0, "type": "quantitative", "scale": {"domain": [-6667, 101667], "nice": false, "zero": false}, "axis": null}}},
{"data": {"name": "vboxes"}, "mark": {"type": "rect", "fill": "#FFFFE4", "stroke": "#000000", "strokeWidth": 1, "clip": false},
 "encoding": {
  "x": {"field": "i0", "type": "quantitative", "scale": {"domain": [-0.76, 324.7], "nice": false, "zero": false}, "axis": null},
  "x2": {"field": "i1"},
  "y": {"field": "v0", "type": "quantitative", "scale": {"domain": [-6667, 101667], "nice": false, "zero": false}, "axis": null},
  "y2": {"field": "v1"}}},
{"data": {"name": "vnotes"}, "transform": [{"filter": "datum.k == 'vb' || datum.k == 'vr'"}], "mark": {"type": "text", "align": "left", "baseline": "middle", "font": "Liberation Sans", "fontSize": 10, "clip": false},
 "encoding": {
  "x": {"field": "i", "type": "quantitative", "scale": {"domain": [-0.76, 324.7], "nice": false, "zero": false}, "axis": null},
  "y": {"field": "v", "type": "quantitative", "scale": {"domain": [-6667, 101667], "nice": false, "zero": false}, "axis": null},
  "text": {"field": "t"},
  "color": {"condition": {"test": "datum.k == 'vr'", "value": "#FF0000"}, "value": "#1C1C8C"}}},
{"data": {"name": "vnotes"}, "transform": [{"filter": "datum.k == 'win'"}], "mark": {"type": "text", "align": "center", "baseline": "middle", "font": "DejaVu Sans", "fontSize": 10, "fontWeight": "bold", "color": "#000000", "clip": false},
 "encoding": {
  "x": {"field": "i", "type": "quantitative", "scale": {"domain": [-0.76, 324.7], "nice": false, "zero": false}, "axis": null},
  "y": {"field": "v", "type": "quantitative", "scale": {"domain": [-6667, 101667], "nice": false, "zero": false}, "axis": null},
  "text": {"field": "t"}}},
{"data": {"name": "vnotes"}, "transform": [{"filter": "datum.k == 'vbox'"}], "mark": {"type": "text", "align": "left", "baseline": "middle", "font": "Liberation Sans", "fontSize": 8, "color": "#000000", "clip": false},
 "encoding": {
  "x": {"field": "i", "type": "quantitative", "scale": {"domain": [-0.76, 324.7], "nice": false, "zero": false}, "axis": null},
  "y": {"field": "v", "type": "quantitative", "scale": {"domain": [-6667, 101667], "nice": false, "zero": false}, "axis": null},
  "text": {"field": "t"}}},
{"data": {"name": "vnotes"}, "transform": [{"filter": "datum.k == 'vx'"}], "mark": {"type": "text", "align": "left", "baseline": "middle", "font": "Liberation Sans", "fontSize": 7, "color": "#1C1C8C", "clip": false},
 "encoding": {
  "x": {"field": "i", "type": "quantitative", "scale": {"domain": [-0.76, 324.7], "nice": false, "zero": false}, "axis": null},
  "y": {"field": "v", "type": "quantitative", "scale": {"domain": [-6667, 101667], "nice": false, "zero": false}, "axis": null},
  "text": {"field": "t"}}}
]
},
{
"width": 900, "height": 18,
"view": {"fill": "#FFFFD0", "stroke": null},
"layer": [
{"data": {"name": "months"}, "mark": {"type": "rule", "color": "#1C1C5C", "strokeWidth": 1},
 "encoding": {
  "x": {"field": "i", "type": "quantitative", "scale": {"domain": [-0.76, 341.8], "nice": false, "zero": false}, "axis": null},
  "y": {"datum": 1, "type": "quantitative", "scale": {"domain": [0, 1], "nice": false, "zero": false}, "axis": null},
  "y2": {"datum": 0.6}}},
{"data": {"name": "months"}, "mark": {"type": "text", "align": "left", "baseline": "alphabetic", "dx": 2, "font": "Liberation Sans", "fontSize": 12, "fontWeight": "bold", "color": "#1C1C6C"},
 "encoding": {
  "x": {"field": "i", "type": "quantitative", "scale": {"domain": [-0.76, 341.8], "nice": false, "zero": false}, "axis": null},
  "y": {"datum": 0.33, "type": "quantitative", "scale": {"domain": [0, 1], "nice": false, "zero": false}, "axis": null},
  "text": {"field": "m"}}}
]
}
]
}
